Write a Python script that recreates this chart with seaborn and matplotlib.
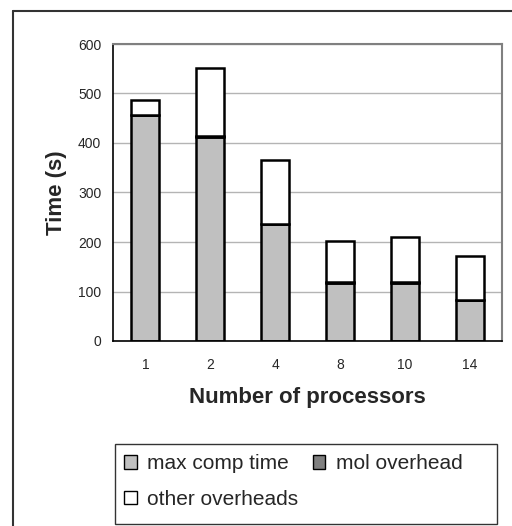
import pandas as pd
import matplotlib.pyplot as plt
import seaborn as sns
from matplotlib.patches import Patch, Rectangle
from matplotlib.lines import Line2D

# Values
processors = ['1', '2', '4', '8', '10', '14']
max_comp_time = [456, 413, 236, 118, 118, 82]
mol_overhead = [1, 1, 1, 1, 1, 1]
other_overheads = [30, 137, 129, 84, 92, 88]

df = pd.DataFrame({'processors': processors,
                   'comp': max_comp_time,
                   'mol': mol_overhead,
                   'other': other_overheads})
df['bottom_mol'] = df['comp']
df['bottom_other'] = df['comp'] + df['mol']

sns.set_style('white')
plt.rcParams['font.family'] = ['Liberation Sans', 'DejaVu Sans']

fig = plt.figure(figsize=(5.12, 5.26), dpi=100)
ax = fig.add_axes([113 / 512, 1 - 341 / 526, (502 - 113) / 512, (341 - 44) / 526])

bar_kw = dict(width=0.43, edgecolor='black', linewidth=1.8, ax=ax)
sns.barplot(data=df, x='processors', y='comp', color='#c0c0c0', saturation=1, **bar_kw)
sns.barplot(data=df, x='processors', y='mol', bottom=df['bottom_mol'], color='#808080',
            saturation=1, **bar_kw)
sns.barplot(data=df, x='processors', y='other', bottom=df['bottom_other'], color='white',
            saturation=1, **bar_kw)

ax.set_ylim(0, 600)
ax.set_xlim(-0.5, 5.5)
ax.set_yticks(range(0, 601, 100))
ax.yaxis.grid(True, color='#b4b4b4', linewidth=1)
ax.set_axisbelow(True)

# category ticks between bars, Excel style
ax.set_xticks([i - 0.5 for i in range(7)], minor=False)
ax.set_xticklabels([])
ax.set_xticks(range(6), minor=True)
ax.set_xticklabels(processors, minor=True, fontsize=10)
ax.tick_params(axis='x', which='major', length=5, width=1, color='black', direction='out')
ax.tick_params(axis='x', which='minor', length=0, pad=12)
ax.tick_params(axis='y', length=5, width=1, color='black', direction='out', labelsize=10)

for side in ['left', 'bottom']:
    ax.spines[side].set_color('black')
    ax.spines[side].set_linewidth(1.2)
for side in ['top', 'right']:
    ax.spines[side].set_color('#808080')
    ax.spines[side].set_linewidth(1.5)

ax.set_xlabel('Number of processors', fontsize=16, fontweight='bold', labelpad=11)
ax.set_ylabel('Time (s)', fontsize=16, fontweight='bold', labelpad=8)

# outer frame of the chart
fig.add_artist(Line2D([13 / 512, 13 / 512], [0, 1 - 11 / 526], color='#333333', lw=1.5))
fig.add_artist(Line2D([13 / 512, 1], [1 - 11 / 526, 1 - 11 / 526], color='#333333', lw=1.5))

# legend box
fig.add_artist(Rectangle((115 / 512, 1 - 524 / 526), (497 - 115) / 512, (524 - 444) / 526,
                         transform=fig.transFigure, facecolor='white', edgecolor='#333333',
                         lw=1))
handles = [Patch(facecolor='#c0c0c0', edgecolor='black', lw=1),
           Patch(facecolor='#808080', edgecolor='black', lw=1),
           Patch(facecolor='white', edgecolor='black', lw=1)]
labels = ['max comp time', 'mol overhead', 'other overheads']
order = [0, 2, 1]
fig.legend([handles[i] for i in order], [labels[i] for i in order], ncol=2,
           loc='upper left', bbox_to_anchor=(116 / 512, 1 - 446 / 526), frameon=False,
           fontsize=15, handlelength=0.6, handleheight=0.6, handletextpad=0.5,
           columnspacing=0.7, labelspacing=0.8, borderaxespad=0)

fig.savefig('out.png', dpi=100)
